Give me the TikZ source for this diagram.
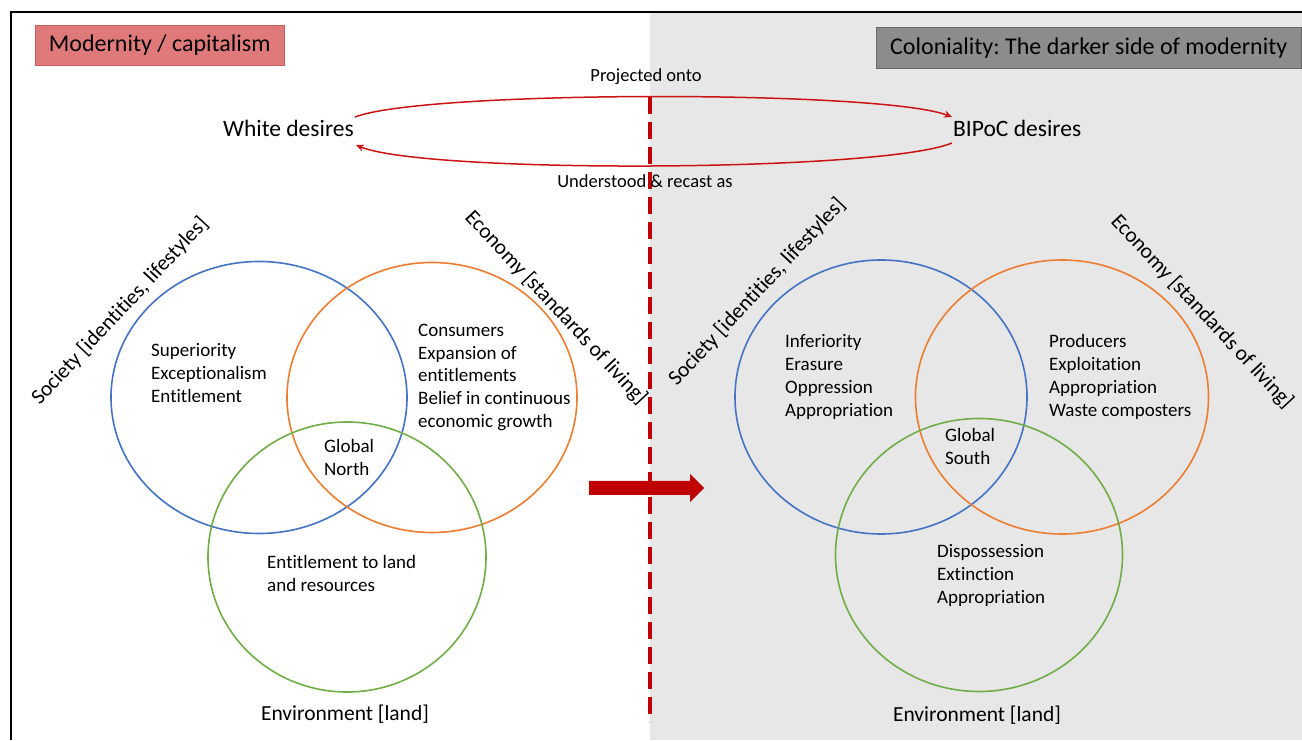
\documentclass[tikz,border=0pt]{standalone}
\usepackage{fontspec}
\setmainfont{Carlito}[Ligatures=NoCommon]
\usetikzlibrary{arrows.meta,calc}
\definecolor{redc}{RGB}{192,0,0}
\definecolor{arcred}{RGB}{204,20,20}
\definecolor{bgc}{RGB}{231,231,231}
\definecolor{boxred}{RGB}{224,122,122}
\definecolor{boxredb}{RGB}{200,95,95}
\definecolor{boxgray}{RGB}{140,140,140}
\definecolor{boxgrayb}{RGB}{105,105,105}
\definecolor{vblue}{RGB}{68,114,196}
\definecolor{vorange}{RGB}{237,125,49}
\definecolor{vgreen}{RGB}{112,173,71}
\frenchspacing
\begin{document}
\begin{tikzpicture}[x=1pt,y=1pt,
  body/.style={font=\fontsize{19}{23}\selectfont, align=left, inner sep=0pt, anchor=base west},
  axislabel/.style={font=\fontsize{21.5}{26}\selectfont, inner sep=0pt},
  titlebox/.style={font=\fontsize{24}{28}\selectfont, inner sep=0pt, anchor=north west},
  desire/.style={font=\fontsize{23.5}{28}\selectfont, inner sep=0pt},
  small/.style={font=\fontsize{18.5}{22}\selectfont, inner sep=0pt, anchor=base},
  circ/.style={line width=1.6pt},
  arcarrow/.style={arcred, line width=1.5pt, -{Stealth[length=8pt,width=7pt]}},
]
\useasboundingbox (0,0) rectangle (1302,740);
\fill[white] (0,0) rectangle (1302,740);
\fill[bgc] (650,0) rectangle (1302,727);
\draw[line width=2.5pt] (11,0) -- (11,728) -- (1302,728);

% title boxes
\node[titlebox, fill=boxred, draw=boxredb, minimum width=249pt, minimum height=40pt] (t1) at (35,715) {Modernity / capitalism};
\node[titlebox, fill=boxgray, draw=boxgrayb, minimum width=425pt, minimum height=41pt] (t2) at (876,713) {Coloniality: The darker side of modernity};

% desires
\node[desire, anchor=base east] (wd) at (354,603) {White desires};
\node[desire, anchor=base west] (bd) at (953,603) {BIPoC desires};
\coordinate (a1) at ([shift={(1,20)}]wd.base east);
\coordinate (a2) at ([shift={(-1,20)}]bd.base west);
\coordinate (b1) at ([shift={(-1,-6)}]bd.base west);
\coordinate (b2) at ([shift={(2,-8)}]wd.base east);

% dashed divider
\coordinate (dtop) at (650,643);
\coordinate (dbot) at (650,18);
\draw[redc, line width=3.5pt, dash pattern=on 17pt off 8pt] (dtop) -- (dbot);

\draw[arcarrow] (a1) .. controls ($(a1)+(70,27)$) and ($(a2)+(-70,27)$) .. (a2);
\draw[arcarrow] (b1) .. controls ($(b1)+(-70,-29)$) and ($(b2)+(70,-29)$) .. (b2);
\node[small] (po) at (646,658) {Projected onto};
\node[small] (ur) at (645,552) {Understood \& recast as};

% thick arrow
\fill[redc] (589,245) -- (690,245) -- (690,238) -- (704,252) -- (690,266) -- (690,259) -- (589,259) -- cycle;

% left Venn
\draw[circ, vblue] (259,342.5) ellipse [x radius=148, y radius=136];
\draw[circ, vorange] (432,342.5) ellipse [x radius=145, y radius=135];
\draw[circ, vgreen] (347,183) ellipse [x radius=139, y radius=135];
\node[body] (l1) at (151,337) {Superiority\\Exceptionalism\\Entitlement};
\node[body] (l2) at (418,312) {Consumers\\Expansion of\\entitlements\\Belief in continuous\\economic growth};
\node[body] (l3) at (324,265) {Global\\North};
\node[body] (l4) at (267,149) {Entitlement to land\\and resources};
\node[axislabel, anchor=base] (l5) at (345,20) {Environment [land]};
\node[axislabel, rotate=47] (l6) at (120,429) {Society [identities, lifestyles]};
\node[axislabel, rotate=-47] (l7) at (556,432) {Economy [standards of living]};

% right Venn
\draw[circ, vblue] (881,343) ellipse [x radius=146, y radius=137];
\draw[circ, vorange] (1062,343) ellipse [x radius=146.5, y radius=137];
\draw[circ, vgreen] (979,185) ellipse [x radius=143.5, y radius=136.5];
\node[body] (r1) at (785,323) {Inferiority\\Erasure\\Oppression\\Appropriation};
\node[body] (r2) at (1049,323) {Producers\\Exploitation\\Appropriation\\Waste composters};
\node[body] (r3) at (945,275) {Global\\South};
\node[body] (r4) at (937,137) {Dispossession\\Extinction\\Appropriation};
\node[axislabel, anchor=base] (r5) at (977,19) {Environment [land]};
\node[axislabel, rotate=47] (r6) at (757,448) {Society [identities, lifestyles]};
\node[axislabel, rotate=-47] (r7) at (1202,428) {Economy [standards of living]};
\end{tikzpicture}
\end{document}
